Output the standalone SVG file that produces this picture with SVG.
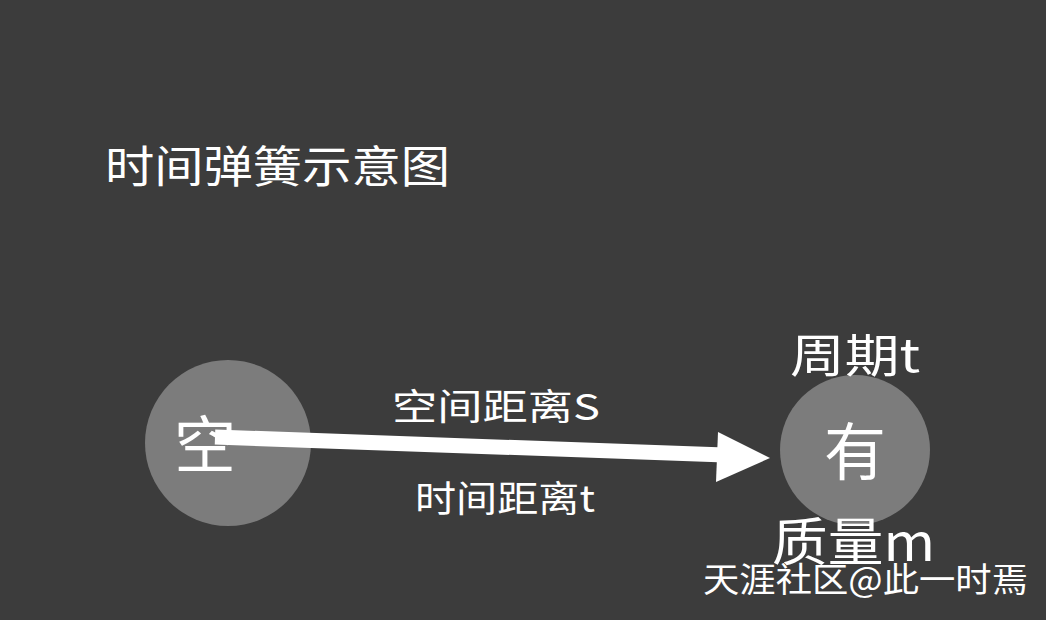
<svg xmlns="http://www.w3.org/2000/svg" width="1046" height="620" viewBox="0 0 1046 620">
<style>
text{fill:#fff;font-family:"Noto Sans CJK SC","Liberation Sans",sans-serif}
.c{fill:#7c7c7c}
</style>
<rect width="1046" height="620" fill="#3c3c3c"/>
<text x="105" y="183" font-size="44" textLength="345" lengthAdjust="spacingAndGlyphs">时间弹簧示意图</text>
<g id="kong"><circle class="c" cx="228" cy="443" r="83"/><text x="205" y="468" font-size="62" text-anchor="middle">空</text></g>
<g id="you"><circle class="c" cx="855" cy="450" r="75"/><text x="855" y="475" font-size="62" text-anchor="middle">有</text></g>
<g id="connectors">
<line x1="215" y1="437" x2="725" y2="455" stroke="#fff" stroke-width="15"/>
<polygon points="770,458 718,432 716,482" fill="#fff"/>
</g>
<text x="392" y="420" font-size="36" textLength="208" lengthAdjust="spacingAndGlyphs">空间距离S</text>
<text x="415" y="512" font-size="36" textLength="180" lengthAdjust="spacingAndGlyphs">时间距离t</text>
<text x="790" y="372" font-size="46" textLength="130" lengthAdjust="spacingAndGlyphs">周期t</text>
<text x="772" y="561" font-size="52" textLength="163" lengthAdjust="spacingAndGlyphs">质量m</text>
<text x="703" y="592" font-size="34" textLength="325" lengthAdjust="spacingAndGlyphs">天涯社区@此一时焉</text>
</svg>
